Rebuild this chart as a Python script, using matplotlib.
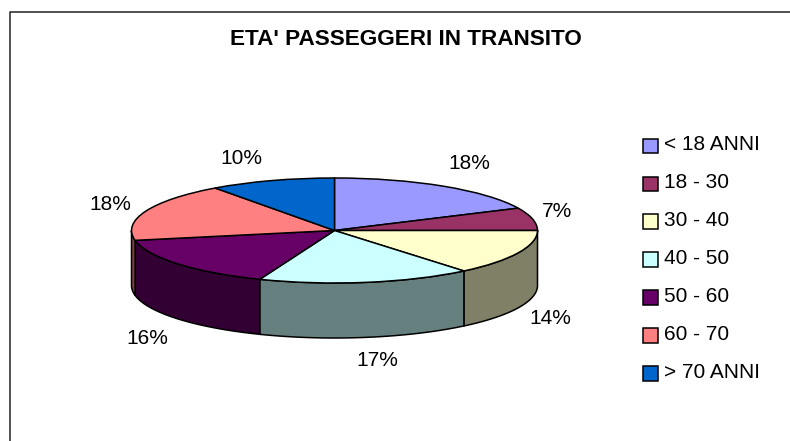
import matplotlib
matplotlib.use('Agg')
import matplotlib.pyplot as plt
from matplotlib.legend_handler import HandlerPatch
from matplotlib.lines import Line2D
from matplotlib.patches import Rectangle, Wedge
import numpy as np

plt.rcParams['font.family'] = ['Liberation Sans', 'DejaVu Sans']

W, H = 790, 441

categories = ['< 18 ANNI', '18 - 30', '30 - 40', '40 - 50', '50 - 60', '60 - 70', '> 70 ANNI']
values = [18, 7, 14, 17, 16, 18, 10]
colors = ['#9999FF', '#993366', '#FFFFCC', '#CCFFFF', '#660066', '#FF8080', '#0066CC']
side_colors = ['#4D4D80', '#4D1A33', '#808066', '#668080', '#330033', '#804040', '#003366']


def fx(px):
    return px / W


def fy(py):
    return 1 - py / H


def low_square(legend, orig_handle, xdescent, ydescent, width, height, fontsize):
    # legend squares sit a bit under the text centre in the original
    return Rectangle((-xdescent, -ydescent - 2.2), width, height)


fig = plt.figure(figsize=(W / 100, H / 100), dpi=100)

# outer chart border, only left and top show in the picture
fig.add_artist(Line2D([fx(9.5), fx(9.5), fx(W)], [fy(H), fy(12), fy(12)], color='#222222', lw=1.1))

# pie axes: unit circle squashed to the tilted ellipse
cx, cy, rx, ry, depth = 334.5, 230.5, 203, 52.5, 55
ax = fig.add_axes([fx(cx - rx), fy(cy + ry), 2 * rx / W, 2 * ry / H])

wedges, _ = ax.pie(values, colors=colors, startangle=90, counterclock=False,
                   wedgeprops={'edgecolor': 'black', 'linewidth': 1.1})
ax.set_aspect('auto')
ax.set_xlim(-1, 1)
ax.set_ylim(-1, 1)

# side wall, only the front half of the disc
d = depth / ry
cum = np.cumsum([0] + values) / sum(values)
for i in range(len(values)):
    a0 = max(cum[i], 0.25)
    a1 = min(cum[i + 1], 0.75)
    if a1 <= a0:
        continue
    t = np.linspace(a0, a1, 80) * 2 * np.pi
    x = np.sin(t)
    y = np.cos(t)
    ax.fill(np.r_[x, x[::-1]], np.r_[y, y[::-1] - d], facecolor=side_colors[i],
            edgecolor='black', lw=1.1, clip_on=False, zorder=0)

fig.text(fx(406), fy(39.5), "ETA' PASSEGGERI IN TRANSITO", ha='center', va='center',
         fontsize=16.2, fontweight='bold', color='black')

# percent labels sit around the 3D disc
label_px = [(469, 163.5), (557, 211.5), (550, 318.5), (377, 360.5), (147, 338.5), (110, 204.5), (241, 158.5)]
for v, (lx, ly) in zip(values, label_px):
    fig.text(fx(lx), fy(ly), f'{v}%', ha='center', va='center', fontsize=15, color='black')

fig.legend(wedges, categories, loc='upper left', bbox_to_anchor=(fx(637), fy(129)),
           frameon=False, fontsize=15, labelspacing=0.908, handlelength=0.72,
           handleheight=0.72, handletextpad=0.29, borderpad=0.3, borderaxespad=0,
           handler_map={Wedge: HandlerPatch(patch_func=low_square)})

fig.savefig('out.png', dpi=100)
